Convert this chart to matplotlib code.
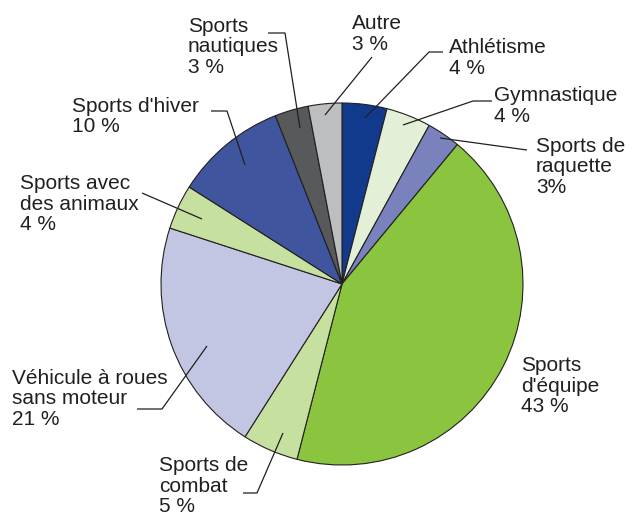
import matplotlib
matplotlib.use("Agg")
import matplotlib.pyplot as plt

plt.rcParams['font.family'] = ['Liberation Sans', 'DejaVu Sans']

categories = ["Athlétisme", "Gymnastique", "Sports de raquette", "Sports d'équipe",
              "Sports de combat", "Véhicule à roues sans moteur", "Sports avec des animaux",
              "Sports d'hiver", "Sports nautiques", "Autre"]
values = [4, 4, 3, 43, 5, 21, 4, 10, 3, 3]
label_texts = ["Athlétisme\n4 %", "Gymnastique\n4 %", "Sports de\nraquette\n3%",
               "Sports\nd'équipe\n43 %", "Sports de\ncombat\n5 %",
               "Véhicule à roues\nsans moteur\n21 %", "Sports avec\ndes animaux\n4 %",
               "Sports d'hiver\n10 %", "Sports\nnautiques\n3 %", "Autre\n3 %"]
colors = ["#123a8c", "#e3efd6", "#7a82bd", "#8bc540", "#c6e0a0",
          "#c2c6e2", "#c6e0a0", "#3f559e", "#58595b", "#bcbec0"]

W, H = 632, 518
fig = plt.figure(figsize=(W / 100, H / 100), dpi=100)
ax = fig.add_axes([0, 0, 1, 1])

def Y(py):
    return H - py

ax.pie(values, colors=colors, startangle=90, counterclock=False,
       center=(342, Y(284)), radius=181, frame=True,
       wedgeprops=dict(edgecolor="#231f20", linewidth=0.8))
ax.set_xlim(0, W)
ax.set_ylim(0, H)
ax.set_aspect('equal')
ax.axis('off')

# label positions (left x, cap-top y in pixels)
label_pos = [(450, 39), (495, 87), (537, 138), (522, 357), (160, 457),
             (13, 370), (21, 175), (73, 98), (189, 18), (353, 15)]
# leader lines (pixel paths), None where absent
leaders = [
    [(365, 118), (429, 52), (443, 52)],
    [(403, 125), (473, 101), (492, 101)],
    [(440, 138), (527, 150)],
    None,
    [(283, 433), (257, 493), (243, 493)],
    [(207, 346), (162, 409), (137, 409)],
    [(202, 219), (142, 193)],
    [(245, 165), (227, 111), (211, 111)],
    [(300, 128), (285, 33), (268, 33)],
    [(325, 115), (372, 57)],
]

fs = 15
txt_color = "#231f20"
for txt, (x, y), path in zip(label_texts, label_pos, leaders):
    ax.text(x - 1, Y(y - 1), txt, ha='left', va='top', fontsize=fs,
            color=txt_color, linespacing=1.1)
    if path:
        xs = [p[0] for p in path]
        ys = [Y(p[1]) for p in path]
        ax.plot(xs, ys, color=txt_color, lw=0.9, solid_capstyle='butt')

fig.savefig("out.png", dpi=100, facecolor="white")
